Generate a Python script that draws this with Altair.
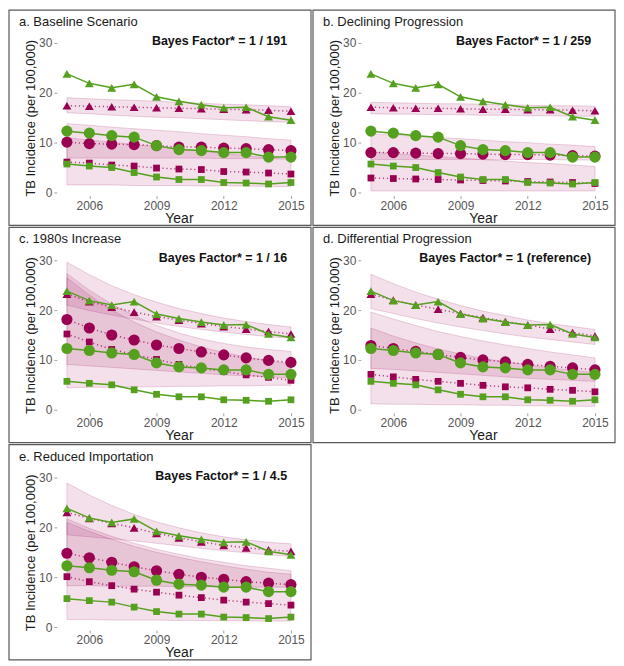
import altair as alt
import pandas as pd

years = [2005, 2006, 2007, 2008, 2009, 2010, 2011, 2012, 2013, 2014, 2015]

# observed (green)
obs_tri = [23.8, 21.9, 21.0, 21.7, 19.2, 18.3, 17.6, 17.0, 17.1, 15.2, 14.5]
obs_cir = [12.3, 11.9, 11.4, 11.1, 9.4, 8.6, 8.4, 8.0, 8.0, 7.1, 7.1]
obs_sq = [5.7, 5.3, 5.0, 4.0, 3.1, 2.6, 2.6, 2.0, 1.9, 1.7, 2.0]

# a. Baseline Scenario
a_tri = [17.4, 17.3, 17.2, 17.1, 17.0, 16.9, 16.8, 16.7, 16.6, 16.5, 16.3]
a_tri_lo = [16.0, 15.8, 15.5, 15.3, 15.1, 15.0, 14.8, 14.6, 14.4, 14.2, 14.1]
a_tri_hi = [19.0, 18.8, 18.6, 18.5, 18.3, 18.1, 17.9, 17.7, 17.6, 17.4, 17.2]
a_cir = [10.1, 9.8, 9.7, 9.6, 9.4, 9.1, 9.1, 8.9, 8.8, 8.6, 8.4]
a_cir_lo = [6.9, 6.9, 6.9, 6.9, 6.9, 6.9, 6.9, 6.8, 6.8, 6.8, 6.8]
a_cir_hi = [13.8, 13.5, 13.1, 12.8, 12.5, 12.2, 11.8, 11.5, 11.2, 10.8, 10.5]
a_sq = [6.1, 5.9, 5.5, 5.3, 4.9, 4.7, 4.6, 4.2, 4.1, 3.9, 3.7]
a_sq_lo = [1.5, 1.5, 1.5, 1.4, 1.4, 1.4, 1.3, 1.3, 1.3, 1.2, 1.2]
a_sq_hi = [11.0, 10.5, 10.1, 9.6, 9.2, 8.7, 8.3, 7.8, 7.4, 6.9, 6.5]

# b. Declining Progression
b_tri = [17.1, 17.0, 16.9, 16.9, 16.8, 16.7, 16.7, 16.6, 16.6, 16.5, 16.4]
b_tri_lo = [15.8, 15.7, 15.7, 15.6, 15.6, 15.5, 15.5, 15.4, 15.4, 15.3, 15.3]
b_tri_hi = [18.1, 18.0, 17.9, 17.8, 17.8, 17.7, 17.6, 17.5, 17.4, 17.4, 17.3]
b_cir = [8.0, 8.0, 7.9, 7.8, 7.8, 7.7, 7.6, 7.6, 7.5, 7.4, 7.3]
b_cir_lo = [6.6, 6.6, 6.6, 6.6, 6.6, 6.6, 6.6, 6.6, 6.6, 6.5, 6.5]
b_cir_hi = [11.8, 11.5, 11.3, 11.0, 10.8, 10.5, 10.2, 10.0, 9.7, 9.5, 9.2]
b_sq = [2.9, 2.8, 2.7, 2.6, 2.5, 2.4, 2.3, 2.2, 2.1, 2.0, 1.8]
b_sq_lo = [0.3, 0.3, 0.3, 0.3, 0.3, 0.3, 0.3, 0.3, 0.3, 0.3, 0.3]
b_sq_hi = [8.1, 7.8, 7.5, 7.2, 6.9, 6.6, 6.3, 6.0, 5.8, 5.5, 5.2]

# c. 1980s Increase
c_tri = [23.2, 21.7, 20.6, 19.6, 18.7, 18.0, 17.3, 16.7, 16.2, 15.7, 15.2]
c_tri_lo = [21.0, 19.9, 19.0, 18.2, 17.4, 16.7, 16.1, 15.6, 15.1, 14.7, 14.3]
c_tri_hi = [29.6, 27.1, 24.9, 23.1, 21.6, 20.3, 19.3, 18.4, 17.7, 17.1, 16.6]
c_cir = [18.1, 16.4, 15.0, 14.0, 13.0, 12.3, 11.6, 11.0, 10.4, 9.9, 9.5]
c_cir_lo = [9.1, 8.8, 8.5, 8.2, 7.9, 7.6, 7.3, 7.0, 6.8, 6.6, 6.4]
c_cir_hi = [27.3, 24.0, 21.2, 18.9, 16.9, 15.4, 14.2, 13.3, 12.6, 12.1, 11.7]
c_sq = [15.2, 13.6, 12.1, 11.1, 10.1, 9.1, 8.3, 7.7, 7.0, 6.5, 5.9]
c_sq_lo = [4.4, 4.5, 4.5, 4.6, 4.6, 4.7, 4.7, 4.8, 4.8, 4.9, 4.9]
c_sq_hi = [26.5, 23.0, 20.0, 17.6, 15.6, 14.0, 12.6, 11.5, 10.6, 9.8, 9.2]

# d. Differential Progression
d_tri = [23.2, 22.0, 21.0, 20.2, 19.3, 18.5, 17.7, 17.0, 16.2, 15.5, 14.8]
d_tri_lo = [20.3, 19.3, 18.3, 17.4, 16.6, 15.9, 15.2, 14.6, 14.1, 13.6, 13.1]
d_tri_hi = [27.2, 25.3, 23.6, 22.2, 20.9, 19.8, 18.9, 18.0, 17.3, 16.7, 16.1]
d_cir = [12.9, 12.3, 11.7, 11.1, 10.5, 10.0, 9.6, 9.1, 8.7, 8.4, 8.0]
d_cir_lo = [8.3, 8.1, 7.8, 7.5, 7.2, 6.9, 6.6, 6.3, 6.1, 5.9, 5.7]
d_cir_hi = [19.6, 18.2, 16.9, 15.7, 14.7, 13.8, 13.0, 12.3, 11.6, 11.0, 10.4]
d_sq = [7.1, 6.6, 6.1, 5.7, 5.3, 4.9, 4.6, 4.4, 4.1, 3.9, 3.6]
d_sq_lo = [1.2, 1.1, 1.1, 1.0, 1.0, 0.9, 0.9, 0.8, 0.8, 0.7, 0.7]
d_sq_hi = [16.4, 14.8, 13.4, 12.2, 11.2, 10.3, 9.6, 9.0, 8.4, 7.9, 7.5]

# e. Reduced Importation
e_tri = [23.0, 21.8, 20.8, 19.9, 18.8, 17.9, 17.1, 16.4, 15.9, 15.5, 15.2]
e_tri_lo = [18.5, 18.1, 17.7, 17.3, 16.8, 16.3, 15.8, 15.3, 14.9, 14.5, 14.2]
e_tri_hi = [28.9, 26.5, 24.4, 22.6, 21.1, 19.9, 18.9, 18.1, 17.5, 17.0, 16.7]
e_cir = [14.8, 13.9, 13.0, 12.1, 11.3, 10.6, 10.0, 9.6, 9.1, 8.8, 8.5]
e_cir_lo = [8.3, 8.3, 8.2, 8.2, 8.2, 8.1, 8.1, 8.1, 8.0, 8.0, 8.0]
e_cir_hi = [21.7, 19.8, 18.2, 16.8, 15.6, 14.6, 13.7, 13.0, 12.3, 11.8, 11.3]
e_sq = [10.1, 9.1, 8.3, 7.6, 7.0, 6.4, 5.9, 5.4, 5.0, 4.7, 4.4]
e_sq_lo = [1.5, 1.5, 1.4, 1.4, 1.4, 1.3, 1.3, 1.3, 1.2, 1.2, 1.2]
e_sq_hi = [21.0, 19.2, 17.6, 16.2, 15.0, 14.0, 13.1, 12.3, 11.6, 11.0, 10.6]

titles = ["a. Baseline Scenario", "b. Declining Progression", "c. 1980s Increase",
          "d. Differential Progression", "e. Reduced Importation"]
bayes = ["Bayes Factor* = 1 / 191", "Bayes Factor* = 1 / 259", "Bayes Factor* = 1 / 16",
         "Bayes Factor* = 1 (reference)", "Bayes Factor* = 1 / 4.5"]

models = [
    (a_tri, a_tri_lo, a_tri_hi, a_cir, a_cir_lo, a_cir_hi, a_sq, a_sq_lo, a_sq_hi),
    (b_tri, b_tri_lo, b_tri_hi, b_cir, b_cir_lo, b_cir_hi, b_sq, b_sq_lo, b_sq_hi),
    (c_tri, c_tri_lo, c_tri_hi, c_cir, c_cir_lo, c_cir_hi, c_sq, c_sq_lo, c_sq_hi),
    (d_tri, d_tri_lo, d_tri_hi, d_cir, d_cir_lo, d_cir_hi, d_sq, d_sq_lo, d_sq_hi),
    (e_tri, e_tri_lo, e_tri_hi, e_cir, e_cir_lo, e_cir_hi, e_sq, e_sq_lo, e_sq_hi),
]

MAROON = "#990050"
GREEN = "#55A01E"
SERIES = ["tri", "cir", "sq"]
SHAPES = ["triangle-up", "circle", "square"]
SIZES = [80, 125, 46]

W, H = 245, 156
LEFT, TOP, RIGHT, BOTTOM = 48, 30, 10, 30

xs = alt.Scale(domain=[2004.55, 2015.45], nice=False, zero=False)
ys = alt.Scale(domain=[-0.6, 30.6], nice=False, zero=False)
xax = alt.Axis(values=[2006, 2009, 2012, 2015], format="d", title="Year", titlePadding=0)
yax = alt.Axis(values=[0, 10, 20, 30], title="TB Incidence (per 100,000)", titlePadding=1,
               titleFontSize=13)
shape_enc = alt.Shape("series:N", scale=alt.Scale(domain=SERIES, range=SHAPES), legend=None)
size_enc = alt.Size("sz:Q", scale=None)


def panel(k):
    m = models[k]
    obs = [obs_tri, obs_cir, obs_sq]
    rows = []
    for j, s in enumerate(SERIES):
        mid, lo, hi = m[3 * j], m[3 * j + 1], m[3 * j + 2]
        for i, yr in enumerate(years):
            rows.append({"year": yr, "series": s, "sz": SIZES[j], "model": mid[i],
                         "lo": lo[i], "hi": hi[i], "obs": obs[j][i]})
    df = pd.DataFrame(rows)
    base = alt.Chart(df)
    xenc = alt.X("year:Q", scale=xs, axis=xax)

    def yenc(field):
        return alt.Y(f"{field}:Q", scale=ys, axis=yax)

    bands = base.mark_area(fill=MAROON, fillOpacity=0.12, stroke=MAROON,
                           strokeOpacity=0.22, strokeWidth=0.8).encode(
        x=xenc, y=yenc("lo"), y2="hi:Q", detail="series:N")
    mline = base.mark_line(color=MAROON, strokeWidth=1.5, strokeDash=[1.2, 2.8],
                           opacity=0.7).encode(
        x=xenc, y=yenc("model"), detail="series:N")
    mpts = base.mark_point(filled=True, color=MAROON, opacity=1, strokeWidth=0).encode(
        x=xenc, y=yenc("model"), shape=shape_enc, size=size_enc)
    oline = base.mark_line(color=GREEN, strokeWidth=1.5).encode(
        x=xenc, y=yenc("obs"), detail="series:N")
    opts = base.mark_point(filled=True, color=GREEN, opacity=1, strokeWidth=0).encode(
        x=xenc, y=yenc("obs"), shape=shape_enc, size=size_enc)

    one = alt.Chart(pd.DataFrame({"label": [titles[k]], "bf": [bayes[k]]}))
    border = one.mark_rect(filled=False, stroke="#5a5a5a", strokeWidth=1.2).encode(
        x=alt.value(-LEFT), x2=alt.value(W + RIGHT),
        y=alt.value(-TOP), y2=alt.value(H + BOTTOM))
    ttl = one.mark_text(align="left", baseline="middle", font="Liberation Sans",
                        fontSize=13, color="#1a1a1a").encode(
        text="label:N", x=alt.value(10 - LEFT), y=alt.value(12 - TOP))
    bf = one.mark_text(align="right", baseline="middle", font="Liberation Sans",
                       fontSize=12.5, fontWeight="bold", color="#111111").encode(
        text="bf:N", x=alt.value(W - 14), y=alt.value(1))

    return alt.layer(border, bands, mline, mpts, oline, opts, ttl, bf).properties(
        width=W, height=H)


chart = alt.concat(*[panel(k) for k in range(5)], columns=2, spacing=0).properties(
    padding=0
).configure_view(stroke=None).configure_axis(
    grid=False, domain=False, tickSize=3, tickColor="#8a8a8a", tickWidth=0.8,
    labelFont="Liberation Sans", labelFontSize=12, labelColor="#555555", labelPadding=2,
    titleFont="Liberation Sans", titleFontSize=14, titleFontWeight="normal",
    titleColor="#1a1a1a"
)

chart.save("out.html", embed_options={"renderer": "svg", "actions": False})
